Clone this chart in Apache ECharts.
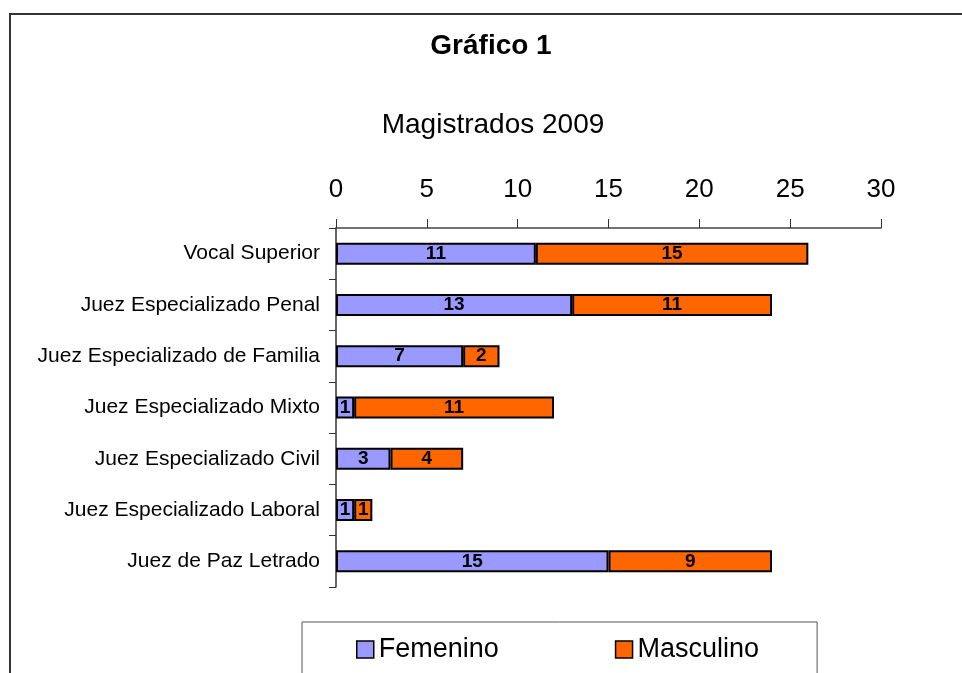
<!DOCTYPE html>
<html>
<head>
    <meta charset="utf-8">
    <title>Gráfico 1</title>
    <script src="https://cdn.jsdelivr.net/npm/echarts/dist/echarts.min.js"></script>
    <style>
        html, body { margin: 0; padding: 0; background: #fff; }
        #main { width: 962px; height: 673px; }
    </style>
</head>
<body>
    <div id="main"></div>
    <script>
        // datos
        var categorias = [
            'Vocal Superior',
            'Juez Especializado Penal',
            'Juez Especializado de Familia',
            'Juez Especializado Mixto',
            'Juez Especializado Civil',
            'Juez Especializado Laboral',
            'Juez de Paz Letrado'
        ];
        var femenino = [11, 13, 7, 1, 3, 1, 15];
        var masculino = [15, 11, 2, 11, 4, 1, 9];
        var ticks = [0, 5, 10, 15, 20, 25, 30];

        var fuente = 'Arial, "Liberation Sans", sans-serif';
        var myChart = echarts.init(document.getElementById('main'));

        var etiqueta = {
            show: true,
            position: 'inside',
            color: '#000',
            fontWeight: 'bold',
            fontSize: 19,
            fontFamily: fuente
        };

        var option = {
            backgroundColor: '#fff',
            animation: false,
            graphic: [{
                type: 'rect',
                shape: { x: 10, y: 14, width: 1000, height: 700 },
                style: { fill: 'none', stroke: '#333', lineWidth: 2 },
                silent: true
            }],
            title: [{
                text: 'Gráfico 1',
                left: 486,
                top: 27,
                textAlign: 'center',
                textStyle: { fontSize: 28, fontWeight: 'bold', color: '#000', fontFamily: fuente }
            }, {
                text: 'Magistrados 2009',
                left: 488,
                top: 106,
                textAlign: 'center',
                textStyle: { fontSize: 28, fontWeight: 'normal', color: '#000', fontFamily: fuente }
            }],
            legend: {
                data: ['Femenino', 'Masculino'],
                left: 302,
                top: 622,
                orient: 'horizontal',
                padding: [14, 58, 40, 54],
                itemGap: 116,
                itemWidth: 17,
                itemHeight: 17,
                borderColor: '#555',
                borderWidth: 1,
                icon: 'rect',
                itemStyle: { borderColor: '#000', borderWidth: 1.5 },
                textStyle: { fontSize: 27, color: '#000', fontFamily: fuente }
            },
            grid: {
                left: 336,
                right: 81,
                top: 228,
                bottom: 86
            },
            xAxis: {
                type: 'value',
                position: 'top',
                min: ticks[0],
                max: ticks[ticks.length - 1],
                interval: 5,
                splitLine: { show: false },
                axisLine: { show: true, lineStyle: { color: '#444', width: 1.5 } },
                axisTick: { show: true, length: 9, lineStyle: { color: '#333' } },
                axisLabel: { margin: 25, fontSize: 26, color: '#000', fontFamily: fuente }
            },
            yAxis: {
                type: 'category',
                inverse: true,
                data: categorias,
                axisLine: { show: true, lineStyle: { color: '#333', width: 1.5 } },
                axisTick: { show: true, length: 7, lineStyle: { color: '#333' } },
                axisLabel: { margin: 16, fontSize: 21, color: '#000', fontFamily: fuente }
            },
            series: [{
                name: 'Femenino',
                type: 'bar',
                stack: 'total',
                barWidth: 22,
                data: femenino,
                itemStyle: { color: '#9999FF', borderColor: '#000', borderWidth: 2 },
                label: etiqueta
            }, {
                name: 'Masculino',
                type: 'bar',
                stack: 'total',
                barWidth: 22,
                data: masculino,
                itemStyle: { color: '#FF6600', borderColor: '#000', borderWidth: 2 },
                label: etiqueta
            }]
        };

        myChart.setOption(option);
    </script>
</body>
</html>
